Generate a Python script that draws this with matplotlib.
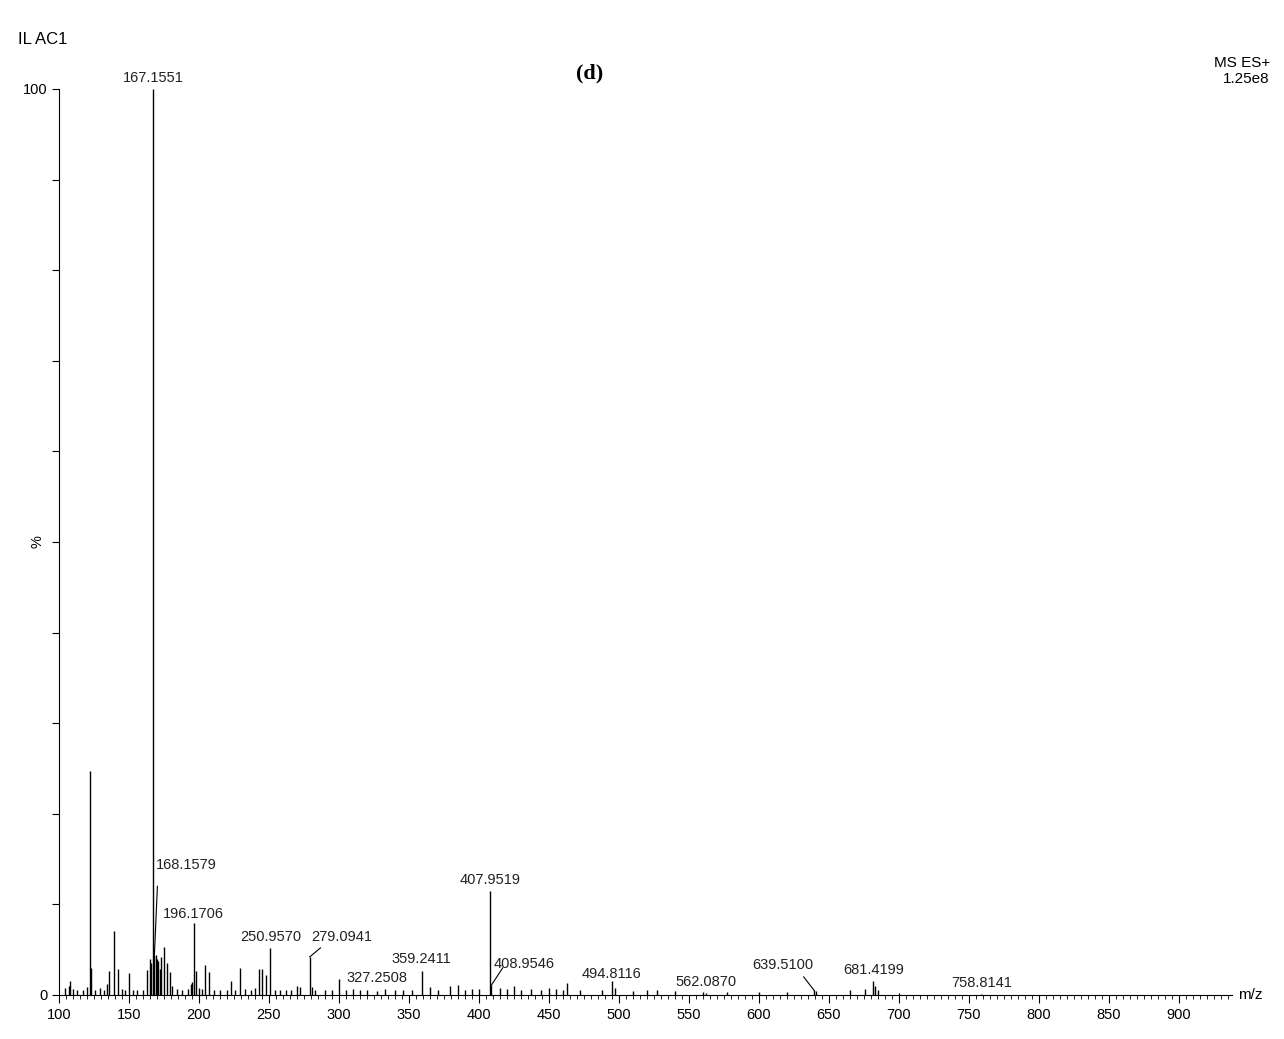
import matplotlib
matplotlib.use("Agg")
import matplotlib.pyplot as plt
from matplotlib.ticker import MultipleLocator

plt.rcParams["font.family"] = ["Liberation Sans", "DejaVu Sans"]

# picos principales (m/z, %)
MZ_PICOS = [122.1, 123.0, 136.0, 139.1, 142.0, 150.0, 165.2, 167.1551, 168.1579, 169.2,
            170.2, 173.1, 175.1, 177.0, 179.1, 196.1706, 198.1, 204.1, 207.1, 229.1,
            243.1, 245.1, 248.1, 250.9570, 279.0941, 300.2, 327.2508, 359.2411,
            407.9519, 408.9546, 494.8116, 562.0870, 639.5100, 681.4199, 758.8141]
INT_PICOS = [24.7, 3.0, 2.7, 7.1, 2.9, 2.4, 4.0, 100.0, 4.4, 4.4,
             4.0, 4.2, 5.3, 3.5, 2.5, 7.9, 2.7, 3.3, 2.5, 3.0,
             2.9, 2.9, 2.2, 5.2, 4.2, 1.8, 0.4, 2.7,
             11.5, 1.1, 1.5, 0.2, 0.5, 1.5, 0.1]

# ruido de fondo (m/z, %)
MZ_RUIDO = [104, 107, 108, 110, 113, 117, 120, 126, 129, 132, 134, 145, 147, 153, 156, 160,
            163, 166, 171, 172, 181, 184, 188, 192, 194, 195, 200, 202, 211, 215, 220, 223,
            226, 233, 237, 240, 254, 258, 262, 266, 270, 272, 281, 283, 290, 295, 305, 310,
            315, 320, 333, 340, 346, 352, 365, 371, 379, 385, 390, 395, 400, 415, 420, 425,
            430, 437, 444, 450, 455, 460, 463, 472, 488, 497, 510, 520, 527, 540, 560, 577,
            600, 620, 641, 665, 676, 683, 685, 700]
INT_RUIDO = [0.8, 1.0, 1.5, 0.7, 0.6, 0.5, 0.9, 0.6, 0.8, 0.6, 1.2, 0.7, 0.6, 0.5, 0.6, 0.6,
             2.8, 3.5, 3.8, 2.9, 1.0, 0.7, 0.6, 0.7, 1.2, 1.4, 0.8, 0.7, 0.6, 0.6, 0.5, 1.5,
             0.6, 0.7, 0.6, 0.8, 0.6, 0.5, 0.6, 0.6, 1.0, 0.9, 0.9, 0.6, 0.5, 0.5, 0.6, 0.7,
             0.5, 0.5, 0.7, 0.5, 0.5, 0.6, 0.9, 0.6, 1.0, 1.1, 0.6, 0.7, 0.7, 0.8, 0.7, 1.0,
             0.6, 0.7, 0.6, 0.8, 0.7, 0.6, 1.3, 0.5, 0.6, 0.8, 0.4, 0.5, 0.5, 0.4, 0.3, 0.3,
             0.3, 0.3, 0.4, 0.6, 0.7, 1.0, 0.6, 0.2]

# etiquetas: (texto, m/z del pico, altura del pico, x del texto, y del texto)
ETIQ_TXT = ["167.1551", "168.1579", "196.1706", "250.9570", "279.0941", "327.2508",
            "359.2411", "407.9519", "408.9546", "494.8116", "562.0870", "639.5100",
            "681.4199", "758.8141"]
ETIQ_X = [167.1551, 190.9, 196.17, 251.0, 301.8, 327.5, 359.2, 407.9, 432.0, 495.0,
          562.0, 617.0, 681.7, 759.0]
ETIQ_Y = [100.4, 13.6, 8.2, 5.6, 5.6, 1.1, 3.2, 11.9, 2.6, 1.6, 0.7, 2.5, 2.0, 0.6]
# lineas guia (desde pico hasta texto)
GUIA = {"168.1579": ((168.16, 4.4), (170.3, 12.0)),
        "279.0941": ((279.09, 4.2), (286.8, 5.2)),
        "408.9546": ((408.95, 1.1), (417.0, 3.0)),
        "639.5100": ((639.5, 0.5), (632.0, 2.0))}

fig = plt.figure(figsize=(12.84, 10.39), dpi=100)
ax = fig.add_axes([59 / 1284, 44 / 1039, (1232 - 59) / 1284, (995 - 89) / 1039])

ax.vlines(MZ_RUIDO, 0, INT_RUIDO, color="black", lw=1)
ax.vlines(MZ_PICOS, 0, INT_PICOS, color="black", lw=1)

for txt, x, y in zip(ETIQ_TXT, ETIQ_X, ETIQ_Y):
    ax.text(x, y, txt, ha="center", va="bottom", fontsize=10.5, color="#222222")
for (p0, p1) in GUIA.values():
    ax.plot([p0[0], p1[0]], [p0[1], p1[1]], color="black", lw=0.8)

ax.set_xlim(100, 938)
ax.set_ylim(0, 100)
for s in ("top", "right"):
    ax.spines[s].set_visible(False)
ax.xaxis.set_major_locator(MultipleLocator(50))
ax.xaxis.set_minor_locator(MultipleLocator(5))
ax.tick_params(axis="x", which="major", length=6, labelsize=10.5)
ax.tick_params(axis="x", which="minor", length=3)
ax.set_yticks(range(0, 101, 10))
ax.set_yticklabels(["0"] + [""] * 9 + ["100"], fontsize=10.5)
ax.tick_params(axis="y", length=5)
ax.text(-0.012, 0.5, "%", transform=ax.transAxes, rotation=90, ha="right", va="center",
        fontsize=10.5)
ax.text(1.005, 0.0, "m/z", transform=ax.transAxes, ha="left", va="center", fontsize=11)

fig.text(18 / 1284, 1 - 39 / 1039, "IL AC1", fontsize=12, va="center")
fig.text(590 / 1284, 1 - 73 / 1039, "(d)", fontsize=16, fontweight="bold",
         family="Liberation Serif", ha="center", va="center")
fig.text(1270 / 1284, 1 - 71 / 1039, "MS ES+\n1.25e8", fontsize=11, ha="right",
         va="center", multialignment="right")

fig.savefig("out.png", dpi=100)
